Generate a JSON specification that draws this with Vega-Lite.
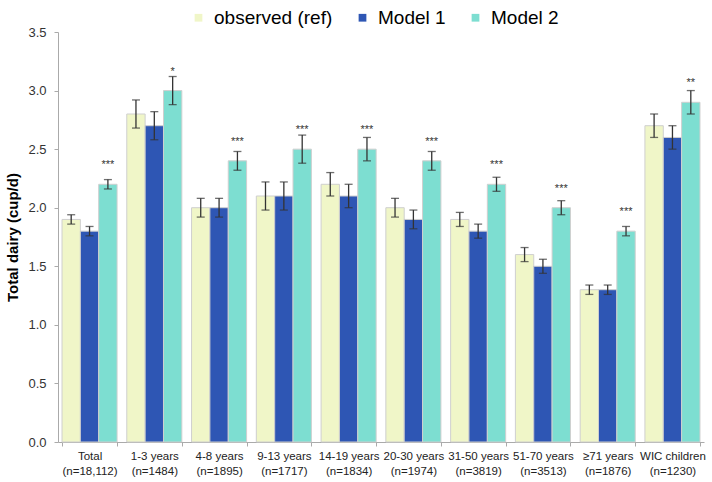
{
  "$schema": "https://vega.github.io/schema/vega-lite/v6.json",
  "autosize": "none",
  "padding": {"left": 58, "top": 32, "right": 8, "bottom": 40},
  "width": 646,
  "height": 410,
  "background": "white",
  "config": {
    "font": "Liberation Sans",
    "view": {"stroke": null}
  },
  "data": {
    "values": [
      {"group": "Total|(n=18,112)", "series": "observed (ref)", "value": 1.9, "lo": 1.86, "hi": 1.94, "sig": ""},
      {"group": "Total|(n=18,112)", "series": "Model 1", "value": 1.8, "lo": 1.76, "hi": 1.84, "sig": ""},
      {"group": "Total|(n=18,112)", "series": "Model 2", "value": 2.2, "lo": 2.16, "hi": 2.24, "sig": "***"},
      {"group": "1-3 years|(n=1484)", "series": "observed (ref)", "value": 2.8, "lo": 2.68, "hi": 2.92, "sig": ""},
      {"group": "1-3 years|(n=1484)", "series": "Model 1", "value": 2.7, "lo": 2.58, "hi": 2.82, "sig": ""},
      {"group": "1-3 years|(n=1484)", "series": "Model 2", "value": 3.0, "lo": 2.88, "hi": 3.12, "sig": "*"},
      {"group": "4-8 years|(n=1895)", "series": "observed (ref)", "value": 2.0, "lo": 1.92, "hi": 2.08, "sig": ""},
      {"group": "4-8 years|(n=1895)", "series": "Model 1", "value": 2.0, "lo": 1.92, "hi": 2.08, "sig": ""},
      {"group": "4-8 years|(n=1895)", "series": "Model 2", "value": 2.4, "lo": 2.32, "hi": 2.48, "sig": "***"},
      {"group": "9-13 years|(n=1717)", "series": "observed (ref)", "value": 2.1, "lo": 1.98, "hi": 2.22, "sig": ""},
      {"group": "9-13 years|(n=1717)", "series": "Model 1", "value": 2.1, "lo": 1.98, "hi": 2.22, "sig": ""},
      {"group": "9-13 years|(n=1717)", "series": "Model 2", "value": 2.5, "lo": 2.38, "hi": 2.62, "sig": "***"},
      {"group": "14-19 years|(n=1834)", "series": "observed (ref)", "value": 2.2, "lo": 2.1, "hi": 2.3, "sig": ""},
      {"group": "14-19 years|(n=1834)", "series": "Model 1", "value": 2.1, "lo": 2.0, "hi": 2.2, "sig": ""},
      {"group": "14-19 years|(n=1834)", "series": "Model 2", "value": 2.5, "lo": 2.4, "hi": 2.6, "sig": "***"},
      {"group": "20-30 years|(n=1974)", "series": "observed (ref)", "value": 2.0, "lo": 1.92, "hi": 2.08, "sig": ""},
      {"group": "20-30 years|(n=1974)", "series": "Model 1", "value": 1.9, "lo": 1.82, "hi": 1.98, "sig": ""},
      {"group": "20-30 years|(n=1974)", "series": "Model 2", "value": 2.4, "lo": 2.32, "hi": 2.48, "sig": "***"},
      {"group": "31-50 years|(n=3819)", "series": "observed (ref)", "value": 1.9, "lo": 1.84, "hi": 1.96, "sig": ""},
      {"group": "31-50 years|(n=3819)", "series": "Model 1", "value": 1.8, "lo": 1.74, "hi": 1.86, "sig": ""},
      {"group": "31-50 years|(n=3819)", "series": "Model 2", "value": 2.2, "lo": 2.14, "hi": 2.26, "sig": "***"},
      {"group": "51-70 years|(n=3513)", "series": "observed (ref)", "value": 1.6, "lo": 1.54, "hi": 1.66, "sig": ""},
      {"group": "51-70 years|(n=3513)", "series": "Model 1", "value": 1.5, "lo": 1.44, "hi": 1.56, "sig": ""},
      {"group": "51-70 years|(n=3513)", "series": "Model 2", "value": 2.0, "lo": 1.94, "hi": 2.06, "sig": "***"},
      {"group": "≥71 years|(n=1876)", "series": "observed (ref)", "value": 1.3, "lo": 1.26, "hi": 1.34, "sig": ""},
      {"group": "≥71 years|(n=1876)", "series": "Model 1", "value": 1.3, "lo": 1.26, "hi": 1.34, "sig": ""},
      {"group": "≥71 years|(n=1876)", "series": "Model 2", "value": 1.8, "lo": 1.76, "hi": 1.84, "sig": "***"},
      {"group": "WIC children|(n=1230)", "series": "observed (ref)", "value": 2.7, "lo": 2.6, "hi": 2.8, "sig": ""},
      {"group": "WIC children|(n=1230)", "series": "Model 1", "value": 2.6, "lo": 2.5, "hi": 2.7, "sig": ""},
      {"group": "WIC children|(n=1230)", "series": "Model 2", "value": 2.9, "lo": 2.8, "hi": 3.0, "sig": "**"}
    ]
  },
  "encoding": {
    "x": {
      "field": "group", "type": "nominal", "sort": null,
      "scale": {"paddingInner": 0.15, "paddingOuter": 0.062},
      "axis": {
        "title": null, "labelAngle": 0,
        "labelExpr": "split(datum.label, '|')",
        "labelFontSize": 11.5, "labelColor": "#222", "labelLineHeight": 15,
        "labelPadding": 4, "labelFont": "Liberation Sans",
        "tickBand": "extent", "tickSize": 4, "tickColor": "#aaa",
        "domainColor": "#aaa", "labelLimit": 200
      }
    },
    "xOffset": {
      "field": "series", "type": "nominal",
      "scale": {"domain": ["observed (ref)", "Model 1", "Model 2"], "paddingInner": 0, "paddingOuter": 0}
    }
  },
  "layer": [
    {
      "mark": {"type": "bar", "stroke": "#cfcfcf", "strokeWidth": 1},
      "encoding": {
        "y": {
          "field": "value", "type": "quantitative",
          "scale": {"domain": [0, 3.5], "nice": false},
          "axis": {
            "title": "Total dairy (cup/d)", "titleFontSize": 15, "titleFontWeight": "bold",
            "titleColor": "#000", "titlePadding": 7,
            "values": [0, 0.5, 1, 1.5, 2, 2.5, 3, 3.5], "format": ".1f",
            "labelFontSize": 13, "labelColor": "#333", "labelPadding": 8,
            "tickSize": 4, "tickColor": "#aaa", "domainColor": "#aaa", "grid": false
          }
        },
        "color": {
          "field": "series", "type": "nominal",
          "scale": {"domain": ["observed (ref)", "Model 1", "Model 2"], "range": ["#F0F6C8", "#2E56B4", "#7DDED1"]},
          "legend": {
            "title": null, "orient": "none", "direction": "horizontal",
            "legendX": 131, "legendY": -24,
            "symbolType": "square", "symbolSize": 60, "symbolStrokeWidth": 0,
            "labelFontSize": 19, "labelColor": "#000", "labelOffset": 6,
            "columnPadding": 20, "labelLimit": 300
          }
        }
      }
    },
    {
      "mark": {"type": "rule", "color": "#333", "strokeWidth": 1.3},
      "encoding": {
        "y": {"field": "lo", "type": "quantitative"},
        "y2": {"field": "hi"}
      }
    },
    {
      "mark": {"type": "tick", "color": "#333", "thickness": 1.3, "size": 8},
      "encoding": {"y": {"field": "lo", "type": "quantitative"}}
    },
    {
      "mark": {"type": "tick", "color": "#333", "thickness": 1.3, "size": 8},
      "encoding": {"y": {"field": "hi", "type": "quantitative"}}
    },
    {
      "transform": [{"filter": "datum.sig != ''"}],
      "mark": {"type": "text", "fontSize": 11, "color": "#333", "baseline": "alphabetic", "dy": -16},
      "encoding": {
        "y": {"field": "value", "type": "quantitative"},
        "text": {"field": "sig"}
      }
    }
  ]
}
